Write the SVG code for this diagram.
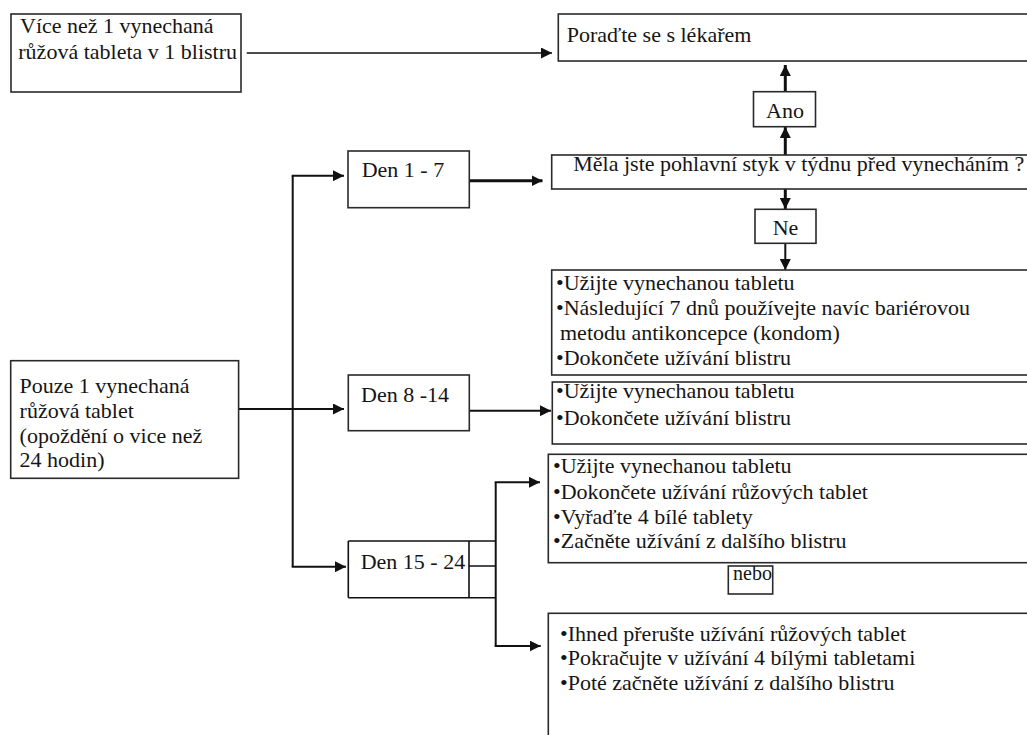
<svg xmlns="http://www.w3.org/2000/svg" width="1027" height="735" viewBox="0 0 1027 735">
<style>
  .box { fill: #fff; stroke: #2a2a2a; stroke-width: 1.6; }
  .t { font-family: "Liberation Serif", "Times New Roman", serif; font-size: 22px; fill: #151515; }
  .c { text-anchor: middle; }
  .ln { fill: none; stroke: #111; stroke-width: 2; }
  .thin { fill: none; stroke: #111; stroke-width: 1.6; }
  .thick { fill: none; stroke: #111; stroke-width: 3; }
</style>
<defs>
  <marker id="ah" markerUnits="userSpaceOnUse" markerWidth="12" markerHeight="11" refX="11" refY="5.5" orient="auto">
    <path d="M0,0 L11,5.5 L0,11 z" fill="#111"/>
  </marker>
</defs>
<rect width="1027" height="735" fill="#fff"/>

<g id="connectors">
  <line class="thin" x1="246.7" y1="53" x2="552" y2="53" marker-end="url(#ah)"/>
  <line class="thick" x1="785.3" y1="91.7" x2="785.3" y2="65" marker-end="url(#ah)"/>
  <line class="thick" x1="785.3" y1="155" x2="785.3" y2="127" marker-end="url(#ah)"/>
  <line class="thick" x1="785.3" y1="189" x2="785.3" y2="209" marker-end="url(#ah)"/>
  <line class="ln" x1="785.3" y1="243.3" x2="785.3" y2="270" marker-end="url(#ah)"/>
  <line class="thick" x1="469.3" y1="180.7" x2="542.5" y2="180.7" marker-end="url(#ah)"/>
  <polyline class="ln" points="292.7,175.7 292.7,566.7"/>
  <line class="ln" x1="291.7" y1="175.7" x2="344" y2="175.7" marker-end="url(#ah)"/>
  <line class="ln" x1="291.7" y1="566.7" x2="346" y2="566.7" marker-end="url(#ah)"/>
  <line class="ln" x1="238.6" y1="409" x2="344" y2="409" marker-end="url(#ah)"/>
  <line class="ln" x1="469.3" y1="410.7" x2="551" y2="410.7" marker-end="url(#ah)"/>
  <polyline class="ln" points="495.7,482.3 495.7,646.5"/>
  <line class="ln" x1="494.7" y1="482.3" x2="540" y2="482.3" marker-end="url(#ah)"/>
  <line class="ln" x1="494.7" y1="646" x2="540.7" y2="646" marker-end="url(#ah)"/>
</g>

<g id="more-than-one">
  <rect class="box" x="11" y="14" width="230" height="78"/>
  <text class="t" x="20" y="33">Více než 1 vynechaná</text>
  <text class="t" x="18.3" y="58.5">růžová tableta v 1 blistru</text>
</g>

<g id="consult">
  <rect class="box" x="558.3" y="14" width="480" height="47"/>
  <text class="t" x="566.7" y="42">Poraďte se s lékařem</text>
</g>

<g id="ano">
  <rect class="box" x="753.5" y="91.7" width="62" height="35"/>
  <text class="t c" x="785" y="118">Ano</text>
</g>

<g id="question">
  <rect class="box" x="551.7" y="155" width="490" height="34"/>
  <text class="t" x="573.3" y="171">Měla jste pohlavní styk v týdnu před vynecháním ?</text>
</g>

<g id="den1-7">
  <rect class="box" x="348" y="151" width="121.3" height="56.7"/>
  <text class="t" x="361.7" y="177.3">Den 1 - 7</text>
</g>

<g id="ne">
  <rect class="box" x="755" y="209.3" width="61" height="34"/>
  <text class="t c" x="785.5" y="235">Ne</text>
</g>

<g id="action-1-7">
  <rect class="box" x="551.7" y="270" width="490" height="105"/>
  <text class="t" x="556" y="290">•Užijte vynechanou tabletu</text>
  <text class="t" x="556" y="315">•Následující 7 dnů používejte navíc bariérovou</text>
  <text class="t" x="560" y="339.5">metodu antikoncepce (kondom)</text>
  <text class="t" x="556" y="365">•Dokončete užívání blistru</text>
</g>

<g id="only-one">
  <rect class="box" x="10.7" y="360.7" width="227.9" height="117.6"/>
  <text class="t" x="19.6" y="393.3">Pouze 1 vynechaná</text>
  <text class="t" x="19.6" y="418.3">růžová tablet</text>
  <text class="t" x="19.6" y="443.3">(opoždění o vice než</text>
  <text class="t" x="19.6" y="467">24 hodin)</text>
</g>

<g id="den8-14">
  <rect class="box" x="348.3" y="375" width="121" height="55.7"/>
  <text class="t" x="361" y="401.5">Den 8 -14</text>
</g>

<g id="action-8-14">
  <rect class="box" x="552.3" y="382" width="490" height="62"/>
  <text class="t" x="556" y="398.3">•Užijte vynechanou tabletu</text>
  <text class="t" x="556" y="425">•Dokončete užívání blistru</text>
</g>

<g id="action-15-24-a">
  <rect class="box" x="548.3" y="454.3" width="490" height="108.4"/>
  <text class="t" x="553" y="473">•Užijte vynechanou tabletu</text>
  <text class="t" x="553" y="499">•Dokončete užívání růžových tablet</text>
  <text class="t" x="553" y="523.5">•Vyřaďte 4 bílé tablety</text>
  <text class="t" x="553" y="548">•Začněte užívání z dalšího blistru</text>
</g>

<g id="nebo">
  <text class="t" x="733" y="580" style="font-size:20px">nebo</text>
  <rect class="box" x="728.3" y="566" width="44.4" height="28" style="fill:none"/>
</g>

<g id="den15-24">
  <path class="thin" d="M348.3,541 H495.7 M348.3,597.7 H495.7 M348.3,541 V597.7 M469,541 V597.7 M469,566 H495.7"/>
  <text class="t" x="360.7" y="569.3">Den 15 - 24</text>
</g>

<g id="action-15-24-b">
  <rect class="box" x="548.3" y="613.3" width="490" height="135"/>
  <text class="t" x="560" y="641">•Ihned přerušte užívání růžových tablet</text>
  <text class="t" x="560" y="665">•Pokračujte v užívání 4 bílými tabletami</text>
  <text class="t" x="560" y="689.5">•Poté začněte užívání z dalšího blistru</text>
</g>
</svg>
